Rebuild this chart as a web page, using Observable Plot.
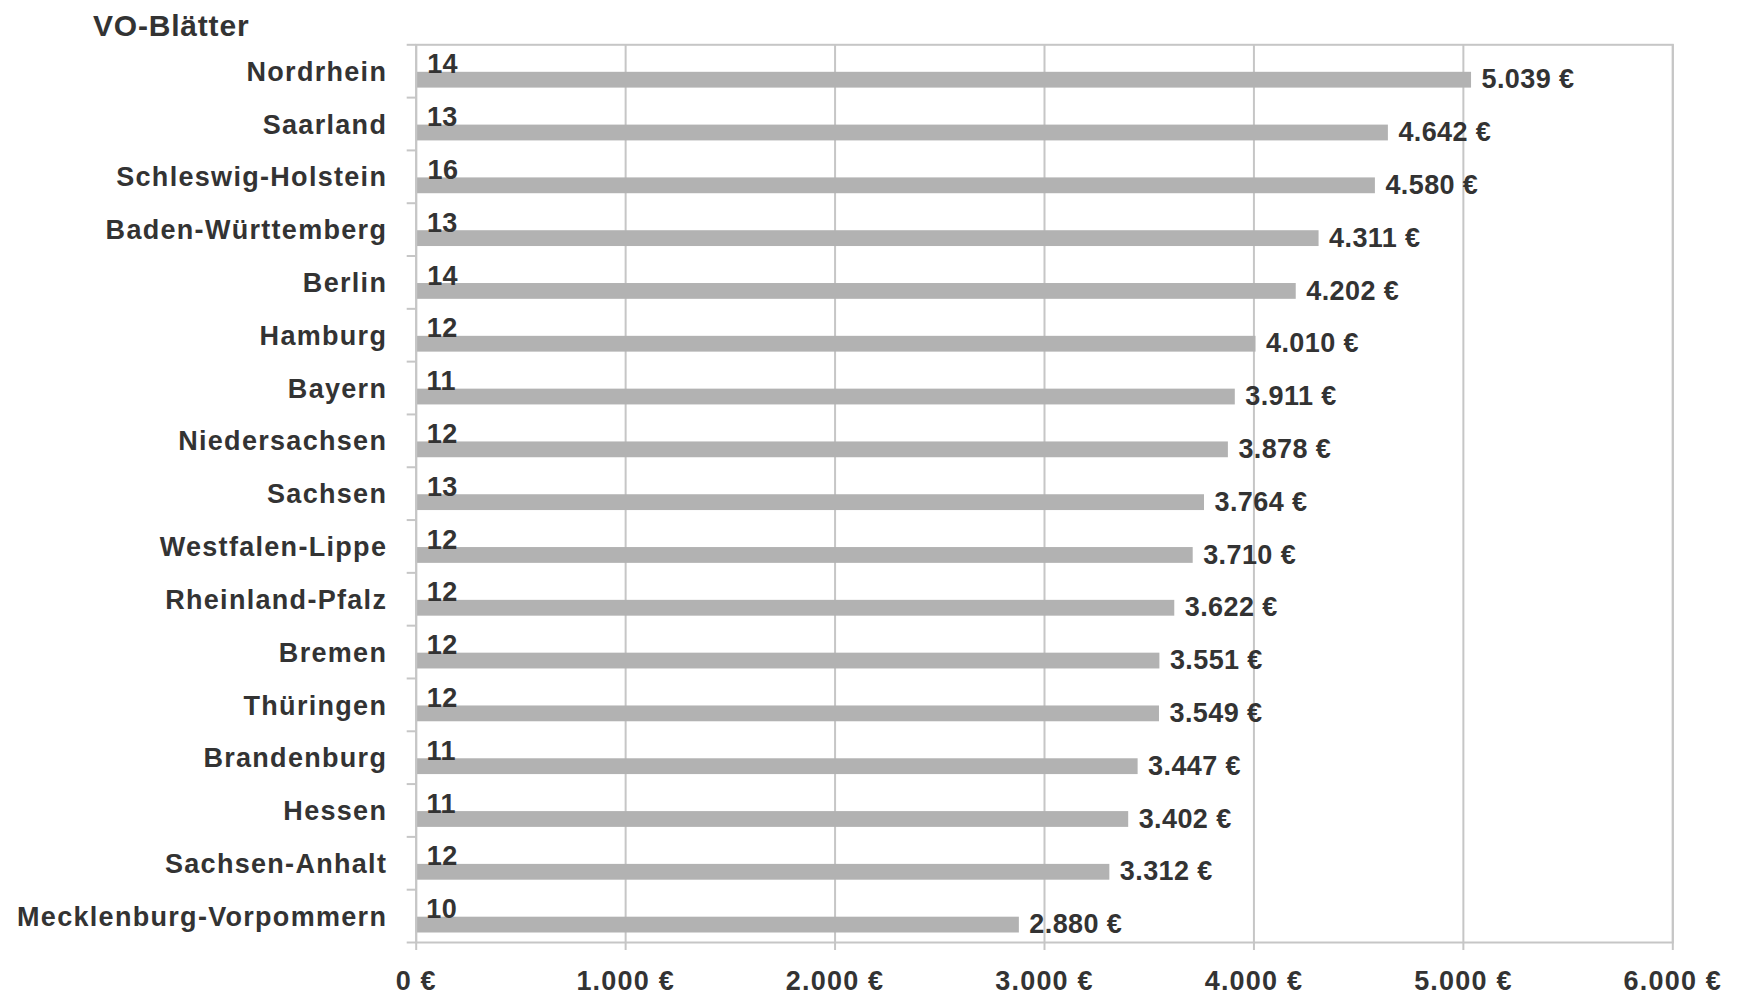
<!DOCTYPE html>
<html>
<head>
<meta charset="utf-8">
<script src="https://cdn.jsdelivr.net/npm/d3@7"></script>
<script src="https://cdn.jsdelivr.net/npm/@observablehq/plot@0.6"></script>
<style>
  html, body { margin: 0; padding: 0; background: #fff; }
  #wrap { position: relative; width: 1739px; height: 994px; }
  #title { position: absolute; z-index: 2; left: 93px; top: 11px; font: bold 30px "Liberation Sans", Arial, sans-serif; letter-spacing: 0.8px; color: #333; line-height: 30px; }
  g[aria-label="y-axis tick label"] text { letter-spacing: 1.3px; }
  g[aria-label="x-axis tick label"] text { letter-spacing: 1.2px; }
  g[aria-label="text"] text { letter-spacing: 0.4px; }
</style>
</head>
<body>
<div id="wrap"><div id="title">VO-Blätter</div></div>
<script>
const states = ["Nordrhein","Saarland","Schleswig-Holstein","Baden-Württemberg","Berlin","Hamburg","Bayern","Niedersachsen","Sachsen","Westfalen-Lippe","Rheinland-Pfalz","Bremen","Thüringen","Brandenburg","Hessen","Sachsen-Anhalt","Mecklenburg-Vorpommern"];
const costs = [5039,4642,4580,4311,4202,4010,3911,3878,3764,3710,3622,3551,3549,3447,3402,3312,2880];
const counts = [14,13,16,13,14,12,11,12,13,12,12,12,12,11,11,12,10];
const xTicks = [0,1000,2000,3000,4000,5000,6000];

const data = states.map((s, i) => ({state: s, cost: costs[i], count: counts[i]}));

const W = 1739, H = 994, mt = 44.3, mb = 52, ml = 415.7, mr = 66.7;
const bw = (H - mt - mb) / states.length;
const locale = d3.formatLocale({decimal: ",", thousands: ".", grouping: [3], currency: ["", " €"]});
const fmt = locale.format("$,.0f");

const textColor = "#333";
const gridColor = "#c6c6c6";
const fs = 27;

const chart = Plot.plot({
  width: W, height: H,
  marginTop: mt, marginBottom: mb, marginLeft: ml, marginRight: mr,
  style: {fontFamily: "'Liberation Sans', Arial, sans-serif", background: "transparent", color: textColor, overflow: "visible"},
  x: {domain: [0, 6000]},
  y: {domain: states, padding: 0, round: false},
  marks: [
    Plot.gridX(xTicks, {stroke: gridColor, strokeWidth: 2, strokeOpacity: 1}),
    Plot.barX(data, {y: "state", x: "cost", fill: "#b2b2b2", insetTop: 27.5, insetBottom: 9.5}),
    Plot.frame({stroke: gridColor, strokeWidth: 2}),
    Plot.ruleY(states, {y: d => d, x1: 0, x2: 0, insetLeft: -9, dy: -bw / 2, stroke: gridColor, strokeWidth: 2}),
    Plot.ruleY(states.slice(-1), {y: d => d, x1: 0, x2: 0, insetLeft: -9, dy: bw / 2, stroke: gridColor, strokeWidth: 2}),
    Plot.axisX(xTicks, {tickSize: 8, tickPadding: 20, tickFormat: fmt, stroke: gridColor, strokeWidth: 2, fill: textColor, fontSize: fs, fontWeight: "bold", label: null}),
    Plot.axisY({tickSize: 0, tickPadding: 29, fill: textColor, fontSize: fs, fontWeight: "bold", label: null, dy: 1}),
    Plot.text(data, {y: "state", x: "cost", text: d => fmt(d.cost), textAnchor: "start", dx: 10, dy: 8.5, fill: textColor, fontSize: fs, fontWeight: "bold"}),
    Plot.text(data, {y: "state", x: "count", text: d => String(d.count), textAnchor: "start", dx: 8, dy: -6.5, fill: textColor, fontSize: fs, fontWeight: "bold"})
  ]
});
chart.style.position = "absolute";
chart.style.left = "0";
chart.style.top = "0";
chart.style.zIndex = "1";
document.getElementById("wrap").appendChild(chart);
</script>
</body>
</html>
